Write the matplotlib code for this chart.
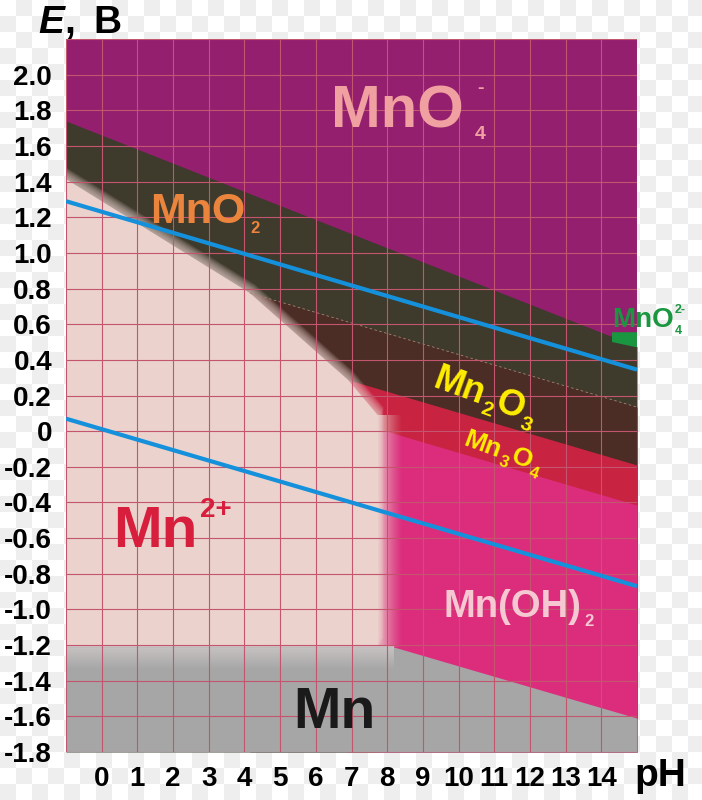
import numpy as np
import matplotlib
matplotlib.use("Agg")
import matplotlib.pyplot as plt
from matplotlib.font_manager import FontProperties
from matplotlib.transforms import offset_copy

# --- values (pH, E in volts) ---
ph_edges = [-1, 15]
e_mno4 = [1.74, 0.475]          # MnO4- / MnO2
e_o2 = [1.29, 0.345]            # upper water line
e_h2 = [0.07, -0.87]            # lower water line

mn2_ph = [-2, -1, 4.15, 6.9, 7.75]  # upper edge of Mn2+ field
mn2_e = [1.538, 1.414, 0.775, 0.288, 0.087]
mn2o3_ph = [4.15, 15]           # MnO2 / Mn2O3
mn2o3_e = [0.775, 0.135]
mn3o4_ph = [6.9, 15]            # Mn2O3 / Mn3O4
mn3o4_e = [0.288, -0.19]
mn2_mn3o4_ph = [6.9, 8.17]      # Mn2+ / Mn3O4
mn2_mn3o4_e = [0.288, -0.012]
mnoh2_ph = [7.75, 15]           # Mn3O4 / Mn(OH)2
mnoh2_e = [0.013, -0.415]
mn_ph = [-1, 8.17, 15]          # Mn metal
mn_e = [-1.21, -1.21, -1.61]
mno4_2_ph = [14.3, 15, 15, 14.3]
mno4_2_e = [0.555, 0.555, 0.47, 0.50]

ph_ticks = list(range(-1, 16))
e_ticks = [round(-1.8 + 0.2 * i, 1) for i in range(21)]

FONT = "Liberation Sans"
PINK_LIGHT = "#ebd2cd"

fig = plt.figure(figsize=(7.02, 8.0), dpi=100)

# checkered background like the reference
yy, xx = np.mgrid[0:800, 0:702]
chk = ((xx // 16 + yy // 16) % 2).astype(float)
bg = np.where(chk[..., None] > 0, [0.935, 0.935, 0.935], [1.0, 1.0, 1.0])
fig.figimage(bg, xo=0, yo=0, zorder=-10)

ax = fig.add_axes([66 / 702, 48 / 800, 571 / 702, 713 / 800])
ax.set_facecolor("#941f6e")
bot = -1.8

ax.fill_between(ph_edges, e_mno4, bot, color="#3e3a2c", lw=0)
ax.fill_between(mn2o3_ph, mn2o3_e, bot, color="#4b2d26", lw=0)
ax.plot(mn2o3_ph, mn2o3_e, color="#b08070", lw=0.6, ls=(0, (3, 3)), zorder=1.5)
ax.fill_between(mn3o4_ph, mn3o4_e, bot, color="#c82341", lw=0)
ax.fill_between(mn2_mn3o4_ph, mn2_mn3o4_e, bot, color="#c82341", lw=0)
ax.fill_between(mnoh2_ph, mnoh2_e, bot, color="#dc2d7d", lw=0)

# Mn2+ field with a soft edge
px = mn2_ph + [mn2_ph[-1], -2]
py = mn2_e + [mn_e[1], mn_e[0]]
for k in range(1, 11):
    tr = offset_copy(ax.transData, fig=fig, x=k * 0.53, y=k * 0.85, units="dots")
    ax.fill(px, py, color=PINK_LIGHT, alpha=0.11, lw=0, transform=tr, zorder=1.19)
ax.fill(px, py, color=PINK_LIGHT, lw=0, zorder=1.2)
hgrad = np.zeros((1, 40, 4))
hgrad[..., :3] = np.array([0.92, 0.82, 0.80])
hgrad[0, :, 3] = np.linspace(0.9, 0.0, 40) ** 1.3
ax.imshow(hgrad, extent=(mn2_ph[-1], mn2_ph[-1] + 0.7, mn_e[0], mn2_e[-1]), origin="lower",
          aspect="auto", interpolation="bilinear", zorder=1.21)

ax.fill_between(mn_ph, mn_e, bot, color="#a6a6a6", lw=0, zorder=1.3)
grad = np.zeros((30, 1, 4))
grad[..., :3] = np.array([0.80, 0.78, 0.78])
grad[:, 0, 3] = np.linspace(0.0, 0.9, 30)
ax.imshow(grad, extent=(-1, 8.17, -1.34, mn_e[0]), origin="lower", aspect="auto",
          interpolation="bilinear", zorder=1.31)
ax.fill(mno4_2_ph, mno4_2_e, color="#1a9640", lw=0, zorder=1.4)

ax.plot(ph_edges, e_o2, color="#1591dc", lw=3, zorder=3, solid_capstyle="butt")
ax.plot(ph_edges, e_h2, color="#1591dc", lw=3, zorder=3, solid_capstyle="butt")

ax.set_xlim(-1, 15)
ax.set_ylim(-1.8, 2.2)
ax.set_xticks(ph_ticks)
ax.set_yticks(e_ticks)
ax.set_xticklabels([str(v) if 0 <= v <= 14 else "" for v in ph_ticks])
ax.set_yticklabels(["" if v > 2.05 else ("0" if abs(v) < 1e-9 else f"{v:.1f}") for v in e_ticks])
ax.tick_params(length=0, labelsize=20, pad=10)
for lab in ax.get_xticklabels() + ax.get_yticklabels():
    lab.set_fontfamily(FONT)
    lab.set_fontweight("bold")
ax.grid(True, color="#c3556e", lw=0.8)
ax.set_axisbelow(False)
for s in ax.spines.values():
    s.set_visible(False)

renderer = fig.canvas.get_renderer()


def chem(x, y, parts, color, angle=0):
    # parts: (text, size, dy in points, gap before in points)
    th = np.deg2rad(angle)
    adv = 0.0
    for s, size, dy, gap in parts:
        fp = FontProperties(family=FONT, weight="bold", size=size)
        adv += gap
        ox = adv * np.cos(th) - dy * np.sin(th)
        oy = adv * np.sin(th) + dy * np.cos(th)
        ax.annotate(s, (x, y), xytext=(ox, oy), textcoords="offset points",
                    fontproperties=fp, color=color, rotation=angle, rotation_mode="anchor",
                    ha="left", va="baseline", zorder=4, annotation_clip=False)
        w, h, d = renderer.get_text_width_height_descent(s, fp, ismath=False)
        adv += w * 72 / fig.dpi


chem(6.42, 1.702, [("MnO", 43, 0, 0), ("4", 14, -8, 8), ("-", 14, 25, -6)], "#f0a0a0")
chem(1.37, 1.168, [("MnO", 31, 0, 0), ("2", 12, -7, 3)], "#eb843c")
chem(0.31, -0.652, [("Mn", 42, 0, 0), ("2+", 20, 22, 2)], "#d71e3c")
chem(9.58, -1.045, [("Mn(OH)", 27.5, 0, 0), ("2", 12, -6, 2)], "#f5c8d2")
chem(5.38, -1.663, [("Mn", 41, 0, 0)], "#1a1a1a")
chem(9.24, 0.247, [("Mn", 26, 0, 0), ("2", 15, -6, 1), ("O", 26, 0, 1), ("3", 15, -6, 1)],
     "#ffee00", angle=-20)
chem(10.11, -0.079, [("Mn", 19, 0, 0), ("3", 12, -5, 1), ("O", 19, 0, 1), ("4", 12, -5, 1)],
     "#ffee00", angle=-20)
chem(14.29, 0.584, [("MnO", 20, 0, 0), ("4", 9, -5, 1), ("2-", 9, 10, -5)], "#1a9640")

fig.text(38 / 702, 1 - 33 / 800, "E", fontfamily=FONT, fontweight="bold", fontstyle="italic",
         fontsize=28, va="baseline")
fig.text(64 / 702, 1 - 33 / 800, ",", fontfamily=FONT, fontweight="bold", fontsize=28, va="baseline")
fig.text(93 / 702, 1 - 33 / 800, "B", fontfamily=FONT, fontweight="bold", fontsize=28, va="baseline")
fig.text(634 / 702, 1 - 786 / 800, "pH", fontfamily=FONT, fontweight="bold", fontsize=28,
         va="baseline")

fig.savefig("out.png", dpi=100)
